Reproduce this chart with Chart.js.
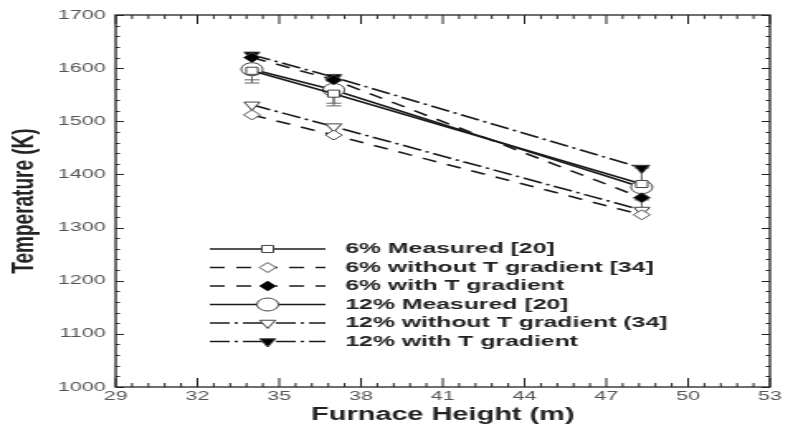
<!DOCTYPE html>
<html>
<head>
<meta charset="utf-8">
<script src="https://cdn.jsdelivr.net/npm/chart.js@4"></script>
<style>
  html, body { margin: 0; padding: 0; background: #fff; overflow: hidden; }
  /* la figura original está estirada en horizontal */
  #wrap { width: 480px; height: 428px; transform: scaleX(1.6521); transform-origin: 0 0; }
</style>
</head>
<body>
<div id="wrap"><canvas id="grafico" width="480" height="428"></canvas></div>
<script>
// Alturas del horno (m)
const alturas = [34, 37, 48.3];

// Temperaturas (K)
const medido6 = [1595, 1552, 1382];
const sinGrad6 = [1512, 1474, 1324];
const conGrad6 = [1620, 1578, 1356];
const medido12 = [1598, 1559, 1376];
const sinGrad12 = [1531, 1490, 1333];
const conGrad12 = [1625, 1583, 1412];

// Barras de error de las mediciones (± K)
const error6 = [23, 23, 30];
const error12 = [20, 25, 40];

const etiquetas = [
    '6% Measured [20]',
    '6% without T gradient [34]',
    '6% with T gradient',
    '12% Measured [20]',
    '12% without T gradient (34]',
    '12% with T gradient'
];

const ejeX = { min: 29, max: 53, paso: 3 };
const ejeY = { min: 1000, max: 1700, paso: 100 };

const negro = '#1a1a1a';
const guion = [9, 7];
const guionPunto = [12, 3, 2, 3];
const fuente = '"Liberation Sans", Arial, sans-serif';

function puntos(valores) {
    return alturas.map((x, i) => ({ x: x, y: valores[i] }));
}

function serie(i, valores, dash, estilo, relleno, radio, rot) {
    return {
        label: etiquetas[i],
        data: puntos(valores),
        borderColor: negro,
        borderWidth: 1.6,
        borderDash: dash,
        pointStyle: estilo,
        pointRotation: rot || 0,
        pointRadius: radio,
        pointBackgroundColor: relleno,
        pointBorderColor: '#444',
        pointBorderWidth: 1,
        showLine: true,
        fill: false
    };
}

const datasets = [
    serie(0, medido6, [], 'rect', '#fff', 5),
    serie(1, sinGrad6, guion, 'rectRot', '#fff', 5),
    serie(2, conGrad6, guion, 'rectRot', '#000', 5),
    serie(3, medido12, [], 'circle', '#fff', 6.5),
    serie(4, sinGrad12, guionPunto, 'triangle', '#fff', 5.5, 180),
    serie(5, conGrad12, guionPunto, 'triangle', '#000', 5.5, 180)
];
datasets[0].errores = error6;
datasets[3].errores = error12;

// Marco, marcas interiores, barras de error y leyenda
const extras = {
    id: 'extras',
    beforeDatasetsDraw(chart) {
        const ctx = chart.ctx;
        const sx = chart.scales.x, sy = chart.scales.y;
        ctx.save();
        ctx.strokeStyle = '#666';
        ctx.lineWidth = 1;
        chart.data.datasets.forEach(ds => {
            if (!ds.errores) return;
            ds.data.forEach((p, i) => {
                const px = sx.getPixelForValue(p.x);
                const y1 = sy.getPixelForValue(p.y - ds.errores[i]);
                const y2 = sy.getPixelForValue(p.y + ds.errores[i]);
                ctx.beginPath();
                ctx.moveTo(px, y1); ctx.lineTo(px, y2);
                ctx.moveTo(px - 4.5, y1); ctx.lineTo(px + 4.5, y1);
                ctx.moveTo(px - 4.5, y2); ctx.lineTo(px + 4.5, y2);
                ctx.stroke();
            });
        });
        ctx.restore();
    },
    afterDraw(chart) {
        const ctx = chart.ctx;
        const a = chart.chartArea;
        const sx = chart.scales.x, sy = chart.scales.y;
        ctx.save();
        ctx.strokeStyle = '#222';
        ctx.lineWidth = 1.3;
        ctx.strokeRect(a.left, a.top, a.right - a.left, a.bottom - a.top);
        ctx.lineWidth = 1;
        ctx.beginPath();
        for (let k = 0; k <= 40; k++) {
            const v = ejeX.min + k * 0.6;
            const px = sx.getPixelForValue(v);
            const l = k % 5 === 0 ? 9 : 4;
            ctx.moveTo(px, a.bottom); ctx.lineTo(px, a.bottom - l);
            ctx.moveTo(px, a.top); ctx.lineTo(px, a.top + l);
        }
        for (let v = ejeY.min; v <= ejeY.max; v += 20) {
            const py = Math.round(sy.getPixelForValue(v)) + 0.5;
            const l = v % ejeY.paso === 0 ? 5 : 2.5;
            ctx.moveTo(a.left, py); ctx.lineTo(a.left + l, py);
            ctx.moveTo(a.right, py); ctx.lineTo(a.right - l, py);
        }
        ctx.stroke();

        // Leyenda dentro del área
        const x0 = 127, x1 = 197, xt = 209;
        let y = 249;
        ctx.font = 'bold 15px ' + fuente;
        ctx.textBaseline = 'middle';
        chart.data.datasets.forEach(ds => {
            ctx.strokeStyle = negro;
            ctx.lineWidth = 1.6;
            ctx.setLineDash(ds.borderDash);
            ctx.beginPath();
            ctx.moveTo(x0, y); ctx.lineTo(x1, y);
            ctx.stroke();
            ctx.setLineDash([]);
            ctx.fillStyle = ds.pointBackgroundColor;
            ctx.strokeStyle = '#444';
            ctx.lineWidth = 1;
            Chart.helpers.drawPoint(ctx, {
                pointStyle: ds.pointStyle,
                rotation: ds.pointRotation,
                radius: ds.pointRadius,
                borderWidth: 1
            }, (x0 + x1) / 2, y);
            ctx.fillStyle = '#222';
            ctx.fillText(ds.label, xt, y);
            y += 18.5;
        });
        ctx.restore();
    }
};

const ctx = document.getElementById('grafico').getContext('2d');
const grafico = new Chart(ctx, {
    type: 'scatter',
    data: { datasets: datasets },
    options: {
        responsive: false,
        animation: false,
        layout: { padding: { top: 15, right: 14, bottom: 0, left: 0 } },
        plugins: {
            legend: { display: false },
            tooltip: { enabled: false }
        },
        scales: {
            x: {
                type: 'linear',
                min: ejeX.min,
                max: ejeX.max,
                afterFit: s => { s.height = 41; },
                ticks: {
                    stepSize: ejeX.paso,
                    color: '#555',
                    font: { family: fuente, size: 13 },
                    padding: 2
                },
                grid: { display: false, drawTicks: false },
                border: { display: false },
                title: {
                    display: true,
                    text: 'Furnace Height (m)',
                    color: '#222',
                    font: { family: fuente, size: 17.5, weight: 'bold' },
                    padding: { top: 0, bottom: 2 }
                }
            },
            y: {
                min: ejeY.min,
                max: ejeY.max,
                afterFit: s => { s.width = 70; },
                ticks: {
                    stepSize: ejeY.paso,
                    color: '#555',
                    font: { family: fuente, size: 13 },
                    padding: 6,
                    callback: v => String(v)
                },
                grid: { display: false, drawTicks: false },
                border: { display: false },
                title: {
                    display: true,
                    text: 'Temperature (K)',
                    color: '#222',
                    font: { family: fuente, size: 19, weight: 'bold' },
                    padding: { top: 3, bottom: 4 }
                }
            }
        }
    },
    plugins: [extras]
});
</script>
</body>
</html>
